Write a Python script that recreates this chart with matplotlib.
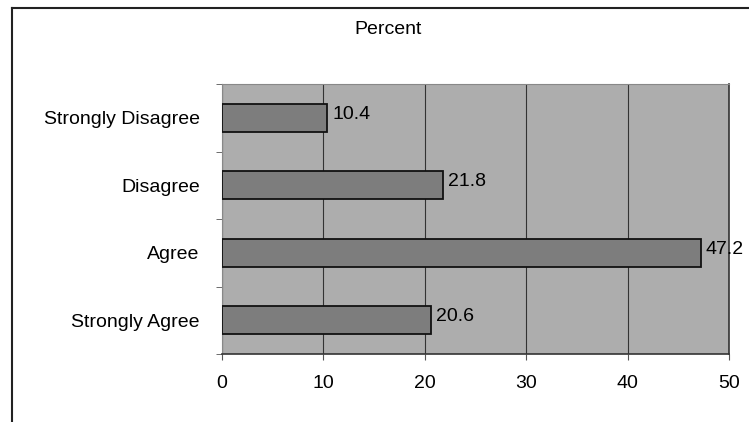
import matplotlib.pyplot as plt
from matplotlib.lines import Line2D

categories = ['Strongly Disagree', 'Disagree', 'Agree', 'Strongly Agree']
percents = [10.4, 21.8, 47.2, 20.6]
xticks = [0, 10, 20, 30, 40, 50]

plt.rcParams['font.family'] = ['Liberation Sans', 'DejaVu Sans']

fig = plt.figure(figsize=(7.49, 4.22), dpi=100)
ax = fig.add_axes([222 / 749, 68 / 422, 507 / 749, 270 / 422])
ax.set_facecolor('#adadad')

ypos = list(range(len(categories)))
ax.barh(ypos, percents, height=0.42, color='#7d7d7d', edgecolor='#111111', linewidth=1.3, zorder=3)
for y, v in zip(ypos, percents):
    ax.text(v + 0.5, y - 0.05, '%.1f' % v, va='center', ha='left', fontsize=14, zorder=4)

ax.set_xlim(0, 50)
ax.set_ylim(len(categories) - 0.5, -0.5)
ax.set_xticks(xticks)
ax.set_xticklabels([str(t) for t in xticks], fontsize=14)
ax.set_yticks(ypos)
ax.set_yticklabels(categories, fontsize=14)
ax.tick_params(axis='y', length=0, pad=16)
ax.tick_params(axis='x', length=4, color='#555555', pad=11)
ax.set_yticks([i - 0.5 for i in range(len(categories) + 1)], minor=True)
ax.tick_params(axis='y', which='minor', length=4, color='#555555')
ax.grid(axis='x', color='#333333', linewidth=0.8, zorder=1)

for side in ['top', 'left']:
    ax.spines[side].set_color('#888888')
for side in ['right', 'bottom']:
    ax.spines[side].set_color('#333333')
    ax.spines[side].set_linewidth(1.2)

fig.text(388 / 749, 1 - 29 / 422, 'Percent', ha='center', va='center', fontsize=14)

# outer chart frame (clipped at right and bottom like the scan)
fig.add_artist(Line2D([12 / 749, 12 / 749], [0, 1 - 8 / 422], color='#222222', linewidth=1.5))
fig.add_artist(Line2D([12 / 749, 1], [1 - 8 / 422, 1 - 8 / 422], color='#222222', linewidth=1.5))

fig.savefig('out.png', dpi=100)
